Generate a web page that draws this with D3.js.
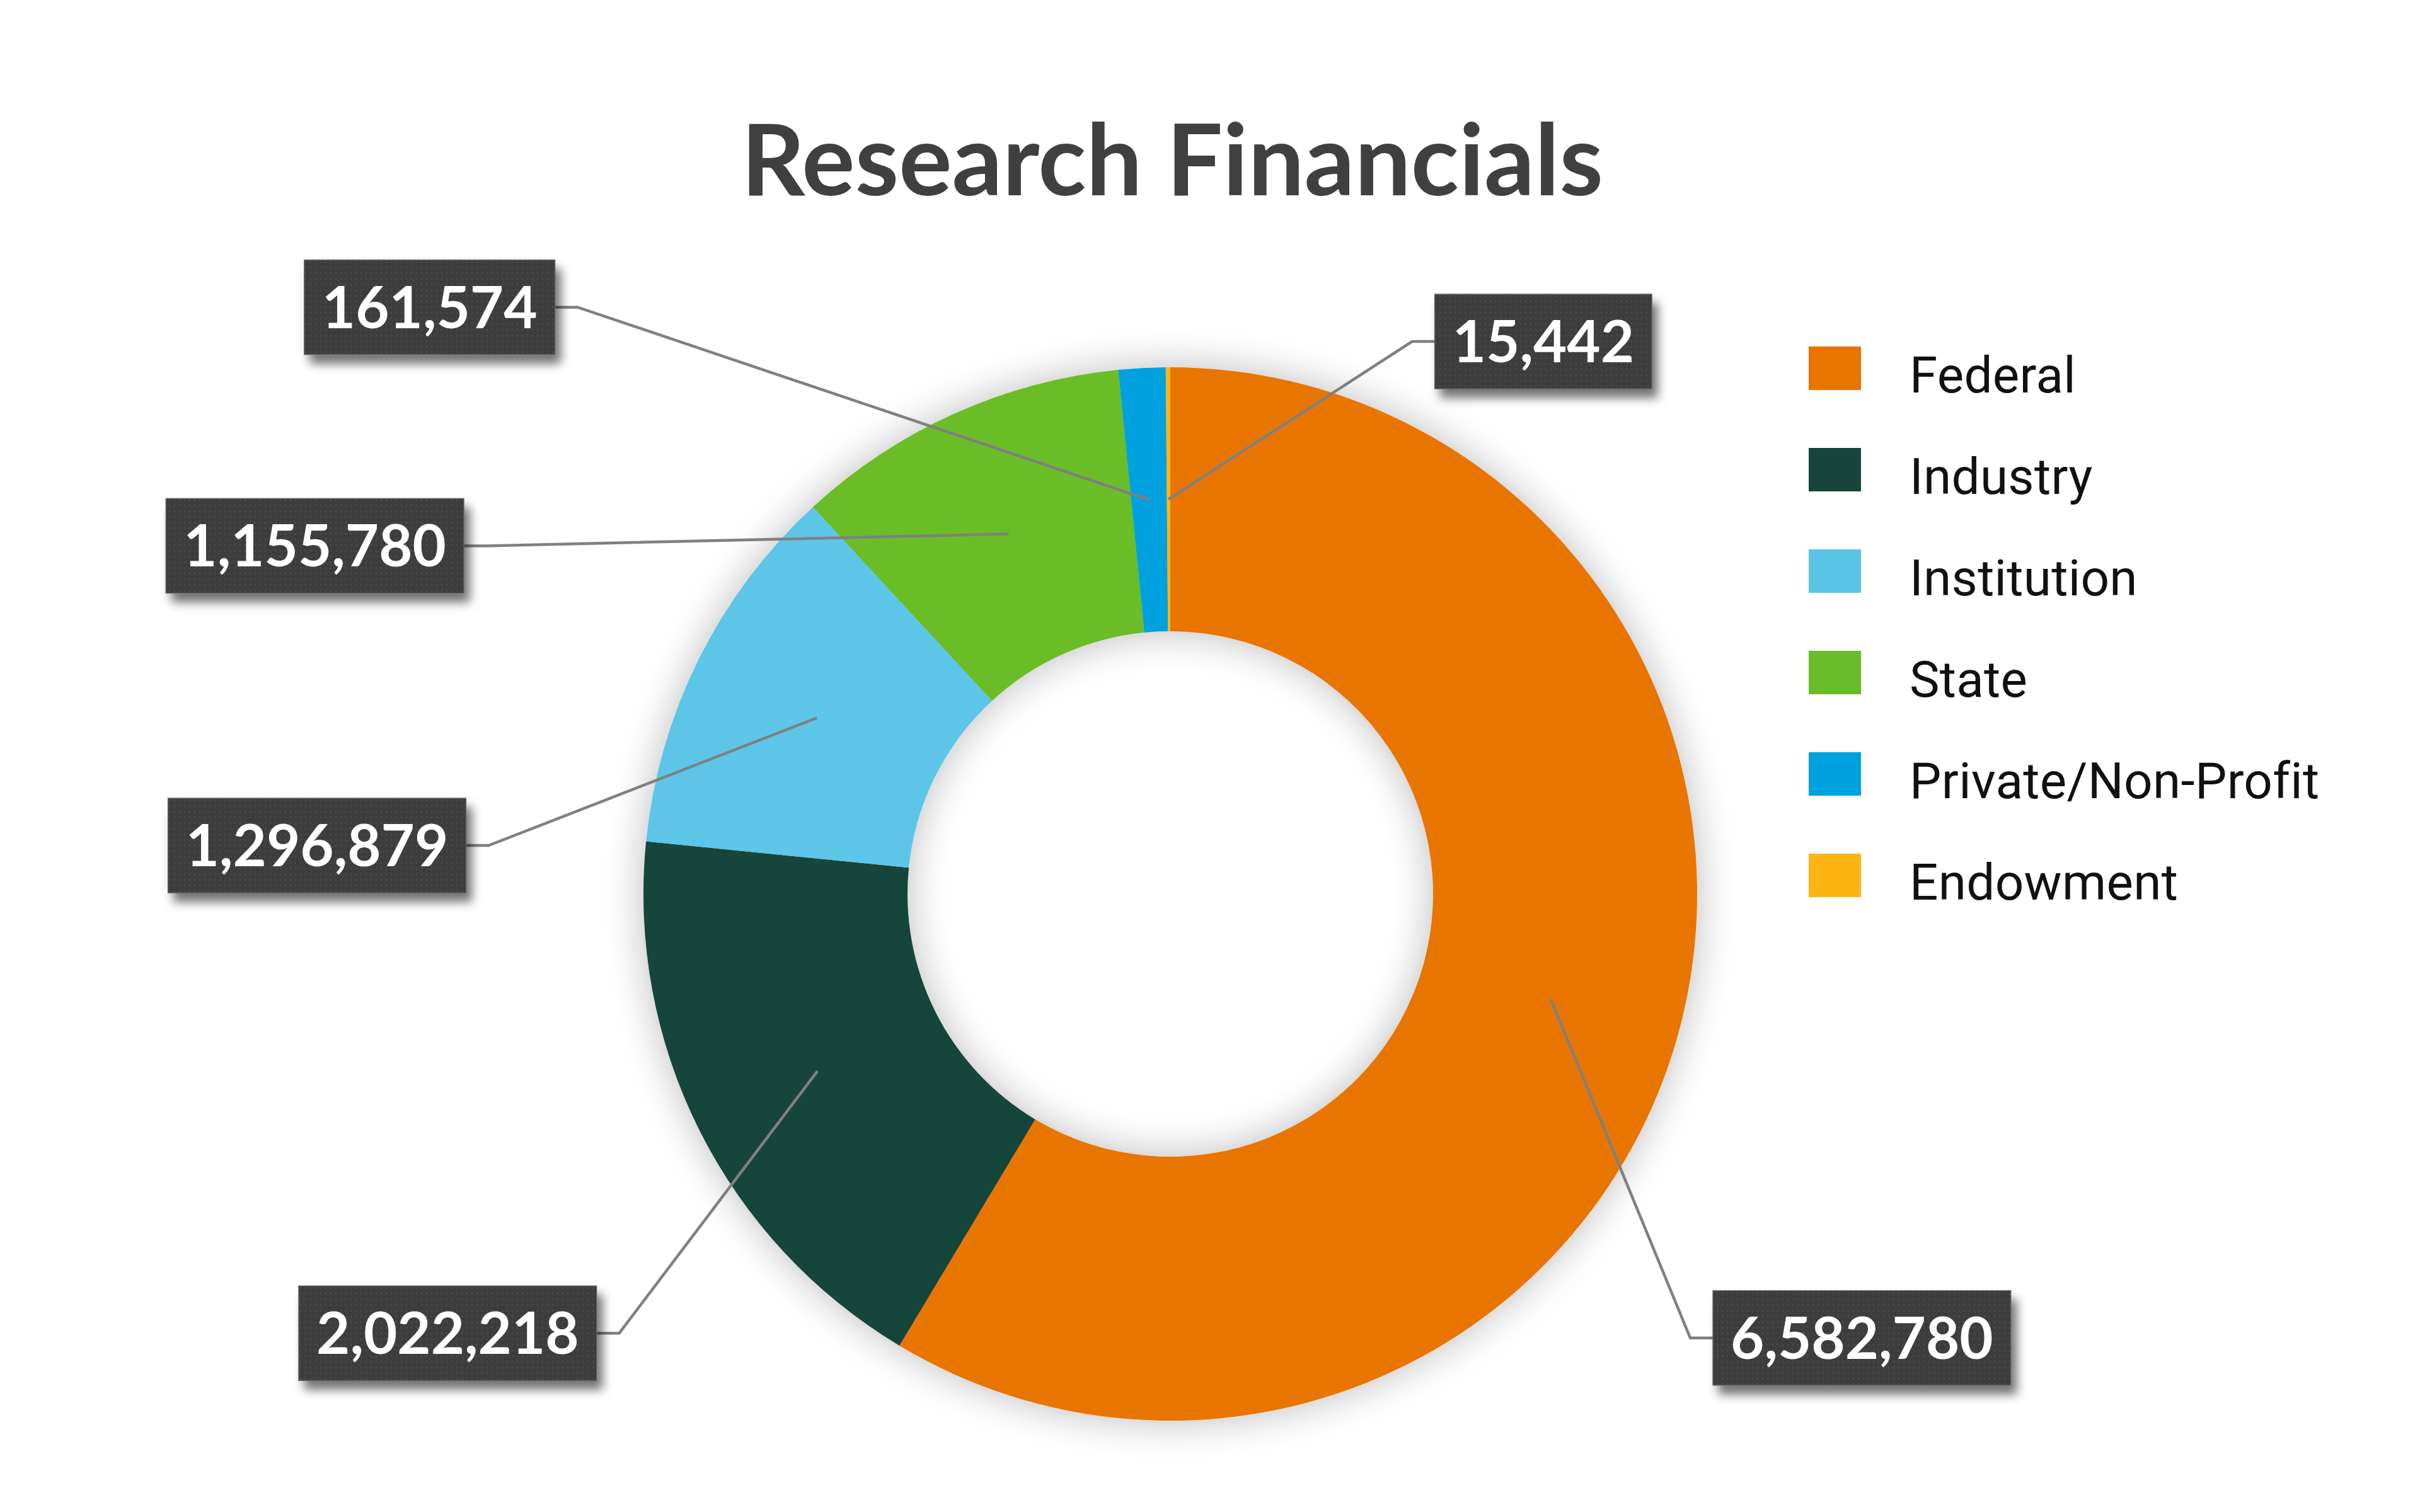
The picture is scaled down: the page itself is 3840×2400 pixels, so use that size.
<!DOCTYPE html>
<html>
<head>
<meta charset="utf-8">
<script src="https://cdn.jsdelivr.net/npm/d3@7"></script>
<style>
  html, body { margin: 0; padding: 0; background: #ffffff; }
  svg { display: block; }
</style>
</head>
<body>
<script>
// ---------------- DATA ----------------
const chartTitle = "Research Financials";
const categories = ["Federal", "Industry", "Institution", "State", "Private/Non-Profit", "Endowment"];
const values = [6582780, 2022218, 1296879, 1155780, 161574, 15442];
const colors = ["#E87500", "#18453B", "#5BC5E8", "#6ABD28", "#00A1DE", "#FDB515"];

// ---------------- LAYOUT ----------------
const W = 3840, H = 2400;
const cx = 1857, cy = 1419;
const outerR = 836, innerR = 417;
// label connection points, in units of the outer radius, relative to centre
const labelAnchors = [
  [1.030, 0.843],
  [-1.089, 0.834],
  [-1.337, -0.092],
  [-1.341, -0.661],
  [-1.168, -1.114],
  [0.502, -1.049]
];
const elbow = 36;
const boxH = 150, boxPad = 28;

const svg = d3.select("body").append("svg")
  .attr("width", W).attr("height", H)
  .attr("viewBox", `0 0 ${W} ${H}`);

svg.append("rect").attr("width", W).attr("height", H).attr("fill", "#ffffff");

const defs = svg.append("defs");

// soft shadow around the ring
const ringShadow = defs.append("filter").attr("id", "ringShadow")
  .attr("x", "-25%").attr("y", "-25%").attr("width", "150%").attr("height", "150%");
ringShadow.append("feGaussianBlur").attr("in", "SourceAlpha").attr("stdDeviation", 32).attr("result", "b");
ringShadow.append("feFlood").attr("flood-color", "#000").attr("flood-opacity", 0.27).attr("result", "f");
ringShadow.append("feComposite").attr("in", "f").attr("in2", "b").attr("operator", "in").attr("result", "s");
const rm = ringShadow.append("feMerge");
rm.append("feMergeNode").attr("in", "s");
rm.append("feMergeNode").attr("in", "SourceGraphic");

// box shadow
const boxShadow = defs.append("filter").attr("id", "boxShadow")
  .attr("x", "-20%").attr("y", "-30%").attr("width", "150%").attr("height", "180%");
boxShadow.append("feGaussianBlur").attr("in", "SourceAlpha").attr("stdDeviation", 8).attr("result", "b");
boxShadow.append("feOffset").attr("in", "b").attr("dx", 9).attr("dy", 14).attr("result", "o");
boxShadow.append("feFlood").attr("flood-color", "#000").attr("flood-opacity", 0.55).attr("result", "f");
boxShadow.append("feComposite").attr("in", "f").attr("in2", "o").attr("operator", "in").attr("result", "s");
const bm = boxShadow.append("feMerge");
bm.append("feMergeNode").attr("in", "s");
bm.append("feMergeNode").attr("in", "SourceGraphic");

// dotted texture for label boxes
const pat = defs.append("pattern").attr("id", "dots")
  .attr("patternUnits", "userSpaceOnUse").attr("width", 8).attr("height", 9);
pat.append("rect").attr("width", 8).attr("height", 9).attr("fill", "#3c3c3c");
pat.append("circle").attr("cx", 4).attr("cy", 4.5).attr("r", 1.4).attr("fill", "#4c4c4c");

// ---------------- TITLE ----------------
svg.append("text")
  .attr("x", 1860).attr("y", 310)
  .attr("text-anchor", "middle")
  .attr("font-family", "Lato, 'Open Sans', sans-serif")
  .attr("font-weight", 700)
  .attr("font-size", 158)
  .attr("fill", "#404040")
  .text(chartTitle);

// ---------------- DONUT ----------------
const data = categories.map((c, i) => ({ category: c, value: values[i], color: colors[i], i }));
const pie = d3.pie().sort(null).value(d => d.value).startAngle(0).endAngle(2 * Math.PI);
const arcs = pie(data);
const arc = d3.arc().innerRadius(innerR).outerRadius(outerR);

const g = svg.append("g").attr("transform", `translate(${cx},${cy})`);
g.append("g").attr("filter", "url(#ringShadow)")
  .selectAll("path").data(arcs).join("path")
  .attr("d", arc)
  .attr("fill", d => d.data.color);

// ---------------- LEADERS & LABELS ----------------
const fmt = d3.format(",");
const labelG = g.append("g");

arcs.forEach((a, i) => {
  const [ex, ey] = arc.centroid(a);
  const ax = labelAnchors[i][0] * outerR, ay = labelAnchors[i][1] * outerR;
  const leftOfTarget = ax < ex;
  const bx = leftOfTarget ? ax + elbow : ax - elbow;
  labelG.append("path")
    .attr("d", d3.line()([[ax, ay], [bx, ay], [ex, ey]]))
    .attr("fill", "none")
    .attr("stroke", "#808080")
    .attr("stroke-width", 4.5)
    .attr("stroke-linejoin", "miter");

  const lg = labelG.append("g");
  const rect = lg.append("rect").attr("fill", "url(#dots)")
    .attr("stroke", "#5e5e5e").attr("stroke-width", 1.5)
    .attr("filter", "url(#boxShadow)");
  const t = lg.append("text")
    .attr("font-family", "Lato, 'Open Sans', sans-serif")
    .attr("font-weight", 700)
    .attr("font-size", 92)
    .attr("fill", "#ffffff")
    .attr("text-anchor", "middle")
    .text(fmt(a.data.value));
  const tw = t.node().getComputedTextLength();
  const bw = tw + 2 * boxPad;
  const x0 = leftOfTarget ? ax - bw : ax;
  rect.attr("x", x0).attr("y", ay - boxH / 2).attr("width", bw).attr("height", boxH);
  t.attr("x", x0 + bw / 2).attr("y", ay + 33);
});

// ---------------- LEGEND ----------------
const ly = d3.scalePoint().domain(categories).range([550, 1355]);
const legend = svg.append("g");
const items = legend.selectAll("g").data(data).join("g")
  .attr("transform", d => `translate(2870,${ly(d.category)})`);
items.append("rect").attr("width", 83).attr("height", 69).attr("fill", d => d.color);
items.append("text")
  .attr("x", 160).attr("y", 73)
  .attr("font-family", "Roboto, 'Noto Sans', sans-serif")
  .attr("font-size", 80)
  .attr("letter-spacing", 0.3)
  .attr("fill", "#111")
  .text(d => d.category);
</script>
</body>
</html>
